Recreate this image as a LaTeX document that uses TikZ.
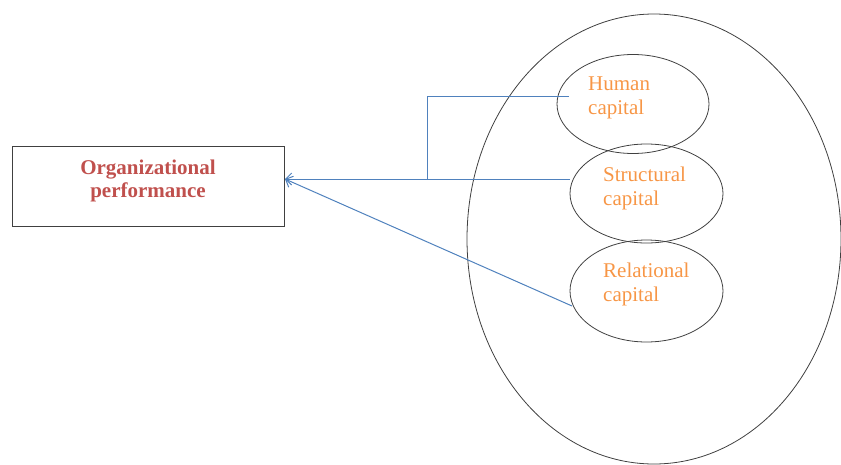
\documentclass[tikz,border=0pt]{standalone}
\usepackage{fontspec}
\setmainfont{Liberation Serif}
\usetikzlibrary{shapes.geometric,arrows.meta}
\definecolor{opred}{HTML}{C0504D}
\definecolor{caporange}{HTML}{F79646}
\definecolor{linkblue}{HTML}{4F81BD}
\begin{document}
\begin{tikzpicture}[x=1pt,y=-1pt,
  outline/.style={draw=black!75,line width=0.8pt,ellipse,inner sep=0pt},
  captext/.style={text=caporange,font=\fontsize{21}{24}\selectfont,align=left,anchor=north west,inner sep=0pt},
  link/.style={draw=linkblue,line width=1pt},
  linkarrow/.style={link,-{Straight Barb[length=6pt,width=12pt,line width=1pt]}}
]
\useasboundingbox (0,0) rectangle (841,464);
% box
\node[draw=black!75,line width=0.8pt,minimum width=272pt,minimum height=80pt,inner sep=0pt] (perf) at (148,186) {};
\node[text=opred,font=\bfseries\fontsize{21}{23}\selectfont,align=center,inner sep=0pt] (perftext) at (148,181) {Organizational\\performance};
% ellipses
\node[outline,minimum width=374pt,minimum height=450pt] (outer) at (654,239) {};
\node[outline,minimum width=152pt,minimum height=99pt] (hum) at (633,104) {};
\node[outline,minimum width=153pt,minimum height=99pt] (str) at (646.5,193.5) {};
\node[outline,minimum width=153pt,minimum height=102pt] (rel) at (646.5,291) {};
% texts
\node[captext] (humtext) at (588,77) {Human\\capital};
\node[captext] (strtext) at (603,167) {Structural\\capital};
\node[captext] (reltext) at (603,263) {Relational\\capital};
% connectors
\coordinate (humend) at (569,96);
\coordinate (strend) at (570,179);
\coordinate (relend) at (572,306);
\coordinate (tip) at (285,179);
\coordinate (corner) at (427,96);
\coordinate (join) at (427,179);
\draw[link] (humend) -- (corner) -- (join);
\draw[linkarrow] (strend) -- (tip);
\draw[linkarrow] (relend) -- (tip);
\end{tikzpicture}
\end{document}
